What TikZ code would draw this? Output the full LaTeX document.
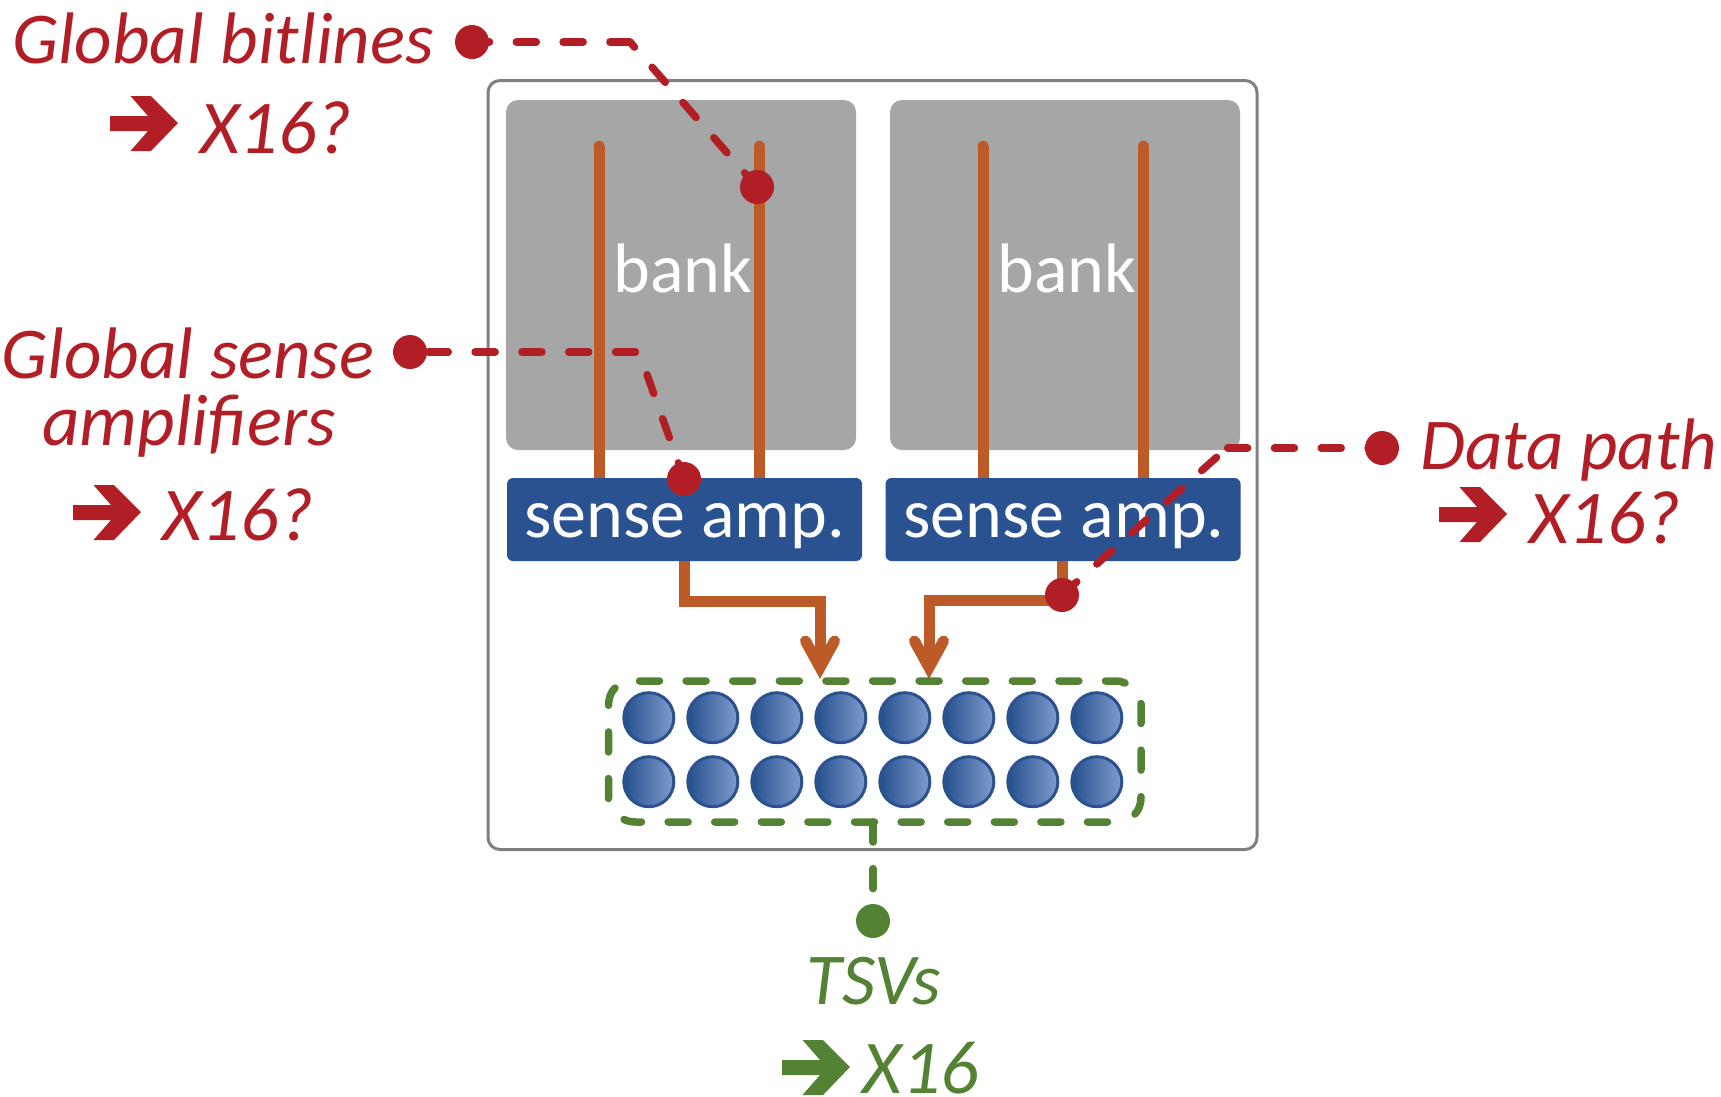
\documentclass[tikz,border=0pt]{standalone}
\usepackage{fontspec}
\setmainfont{Carlito}
\definecolor{cred}{HTML}{B21E25}
\definecolor{corange}{HTML}{BD5B28}
\definecolor{cblue}{HTML}{2A5291}
\definecolor{cgray}{HTML}{A6A6A6}
\definecolor{cgreen}{HTML}{548235}
\definecolor{cframe}{HTML}{7F7F7F}
\definecolor{tsvdark}{HTML}{244F8E}
\definecolor{tsvmid}{HTML}{416EB3}
\definecolor{tsvlight}{HTML}{819CCC}
\tikzset{
  px/.style={inner sep=0pt,outer sep=0pt},
  bankbox/.style={px,fill=cgray,rounded corners=12pt,minimum width=350pt,minimum height=350pt},
  ampbox/.style={px,fill=cblue,rounded corners=6pt,minimum width=355pt,minimum height=83pt},
  wire/.style={draw=corange,line width=11pt},
  bitline/.style={wire},
  barb/.style={draw=corange,line width=11pt,line cap=round,line join=miter,miter limit=10},
  reddash/.style={draw=cred,line width=7.5pt,line cap=round,line join=round,dash pattern=on 20pt off 26.8pt},
  greendash/.style={draw=cgreen,line width=7.5pt,line cap=round,dash pattern=on 20pt off 26.6pt},
  reddot/.style={px,circle,fill=cred,minimum size=34pt},
  greendot/.style={px,circle,fill=cgreen,minimum size=34pt},
  tsv/.style={px,circle,minimum size=50pt,draw=cblue,line width=3pt,left color=tsvdark,middle color=tsvmid,right color=tsvlight},
  lab/.style={px,anchor=base,font=\fontsize{73}{73}\selectfont\itshape},
  redlab/.style={lab,text=cred},
  greenlab/.style={lab,text=cgreen},
  xlab/.style={font=\fontsize{76}{76}\selectfont\itshape},
  inlab/.style={px,anchor=base,text=white,font=\fontsize{70}{70}\selectfont},
}
\newcommand{\blockarrow}[3]{\fill[#1] (#2,#3) -- ++(-27,-27) -- ++(-20.5,0) -- ++(17.5,20) -- ++(-38,0) -- ++(0,15) -- ++(38,0) -- ++(-17.5,20) -- ++(20.5,0) -- cycle;}
\begin{document}
\begin{tikzpicture}[x=1pt,y=-1pt]
\useasboundingbox (0,0) rectangle (1721,1096);
\node[px,draw=cframe,line width=3pt,rounded corners=12pt,minimum width=769pt,minimum height=769pt] (frame) at (872.5,465) {};
\node[bankbox] (bankA) at (681,275) {};
\node[bankbox] (bankB) at (1065,275) {};
% amplifier boxes
\node[ampbox] (ampA) at (684.5,519.5) {};
\node[ampbox] (ampB) at (1063,519.5) {};
% bitlines
\coordinate (bA1) at (599,146); \coordinate (bA2) at (759.5,146);
\coordinate (bB1) at (983,146); \coordinate (bB2) at (1143.5,146);
\draw[bitline] (bA1) -- (bA1 |- ampA.north);
\draw[bitline] (bA2) -- (bA2 |- ampA.north);
\draw[bitline] (bB1) -- (bB1 |- ampB.north);
\draw[bitline] (bB2) -- (bB2 |- ampB.north);
\fill[corange] (bA1) circle (5.5pt) (bA2) circle (5.5pt) (bB1) circle (5.5pt) (bB2) circle (5.5pt);
\node[inlab] (bankTxtA) at (683,292) {bank};
\node[inlab] (bankTxtB) at (1067,292) {bank};
\node[inlab] (ampTxtA) at (684.5,537) {sense amp.};
\node[inlab] (ampTxtB) at (1064,537) {sense amp.};
% TSVs
\foreach \n/\x in {1/648.8,2/712.8,3/776.8,4/840.8,5/904.8,6/968.8,7/1032.8,8/1096.8}{
  \node[tsv] (tsvT\n) at (\x,717.7) {};
  \node[tsv] (tsvB\n) at (\x,781.7) {};
}
% orange connectors
\coordinate (tipA) at (820,667.5); \coordinate (tipB) at (929,667.5);
\coordinate (bendA) at (684,601); \coordinate (bendB) at (1062,600);
\draw[wire,line join=miter] (ampA.south -| bendA) -- (bendA) -- (bendA -| tipA) -- (tipA);
\draw[wire,line join=miter] (ampB.south -| bendB) -- (bendB) -- (bendB -| tipB) -- (tipB);
\draw[barb] (805.5,641) -- (tipA) -- (834.5,641);
\draw[barb] (914.5,641) -- (tipB) -- (943.5,641);
% green TSV group outline, side by side
\draw[greendash] (639.5,681) -- (1115,681) .. controls (1119,681) and (1122,681.5) .. (1125,683);
\draw[greendash] (1141,703.5) -- (1141,797) .. controls (1141,805) and (1138,811) .. (1135,814);
\draw[greendash] (1107.5,822) -- (636,822) .. controls (631,822) and (627,821) .. (624,819.5);
\draw[greendash] (608.5,798.5) -- (608.5,706) .. controls (608.5,698) and (611,692) .. (615,688);
% dots
\node[reddot] (dotBitL) at (472,42) {};
\node[reddot] (dotBitR) at (757,187) {};
\node[reddot] (dotGsaL) at (410,352) {};
\node[reddot] (dotGsaR) at (684,479) {};
\node[reddot] (dotDpR) at (1382,448) {};
\node[reddot] (dotDpL) at (1062,595) {};
\node[greendot] (dotTsv) at (873,921) {};
\coordinate (kBit) at (630,42);
\coordinate (kGsa) at (639,352);
\coordinate (kDp) at (1227,448);
\coordinate (gbot) at (873,822);
\draw[reddash,dash phase=2.5pt] (dotBitL.center) -- (kBit);
\draw[reddash,dash phase=13.2pt] (kBit) -- (dotBitR.center);
\draw[reddash,dash phase=28.5pt] (dotGsaL.center) -- (kGsa);
\draw[reddash,dash phase=22.8pt] (kGsa) -- (dotGsaR.center);
\draw[reddash,dash phase=6pt] (dotDpR.center) -- (kDp);
\draw[reddash,dash phase=32.8pt] (kDp) -- (dotDpL.center);
\draw[greendash] (gbot) -- (dotTsv.center);
% labels
\node[redlab] (l1) at (223,63) {Global bitlines};
\node[redlab,xlab] (l2) at (276,153) {X16?};
\node[redlab] (l3) at (188,378) {Global sense};
\node[redlab] (l4) at (189,445) {amplifiers};
\node[redlab,xlab] (l5) at (238,540) {X16?};
\node[redlab] (l6) at (1569,469) {Data path};
\node[redlab,xlab] (l7) at (1605,543) {X16?};
\node[greenlab] (l8) at (874,1004) {TSVs};
\node[greenlab,xlab] (l9) at (921,1093) {X16};
% block arrows
\blockarrow{cred}{178}{123}
\blockarrow{cred}{141}{512}
\blockarrow{cred}{1507}{514}
\blockarrow{cgreen}{850}{1067}
\end{tikzpicture}
\end{document}
